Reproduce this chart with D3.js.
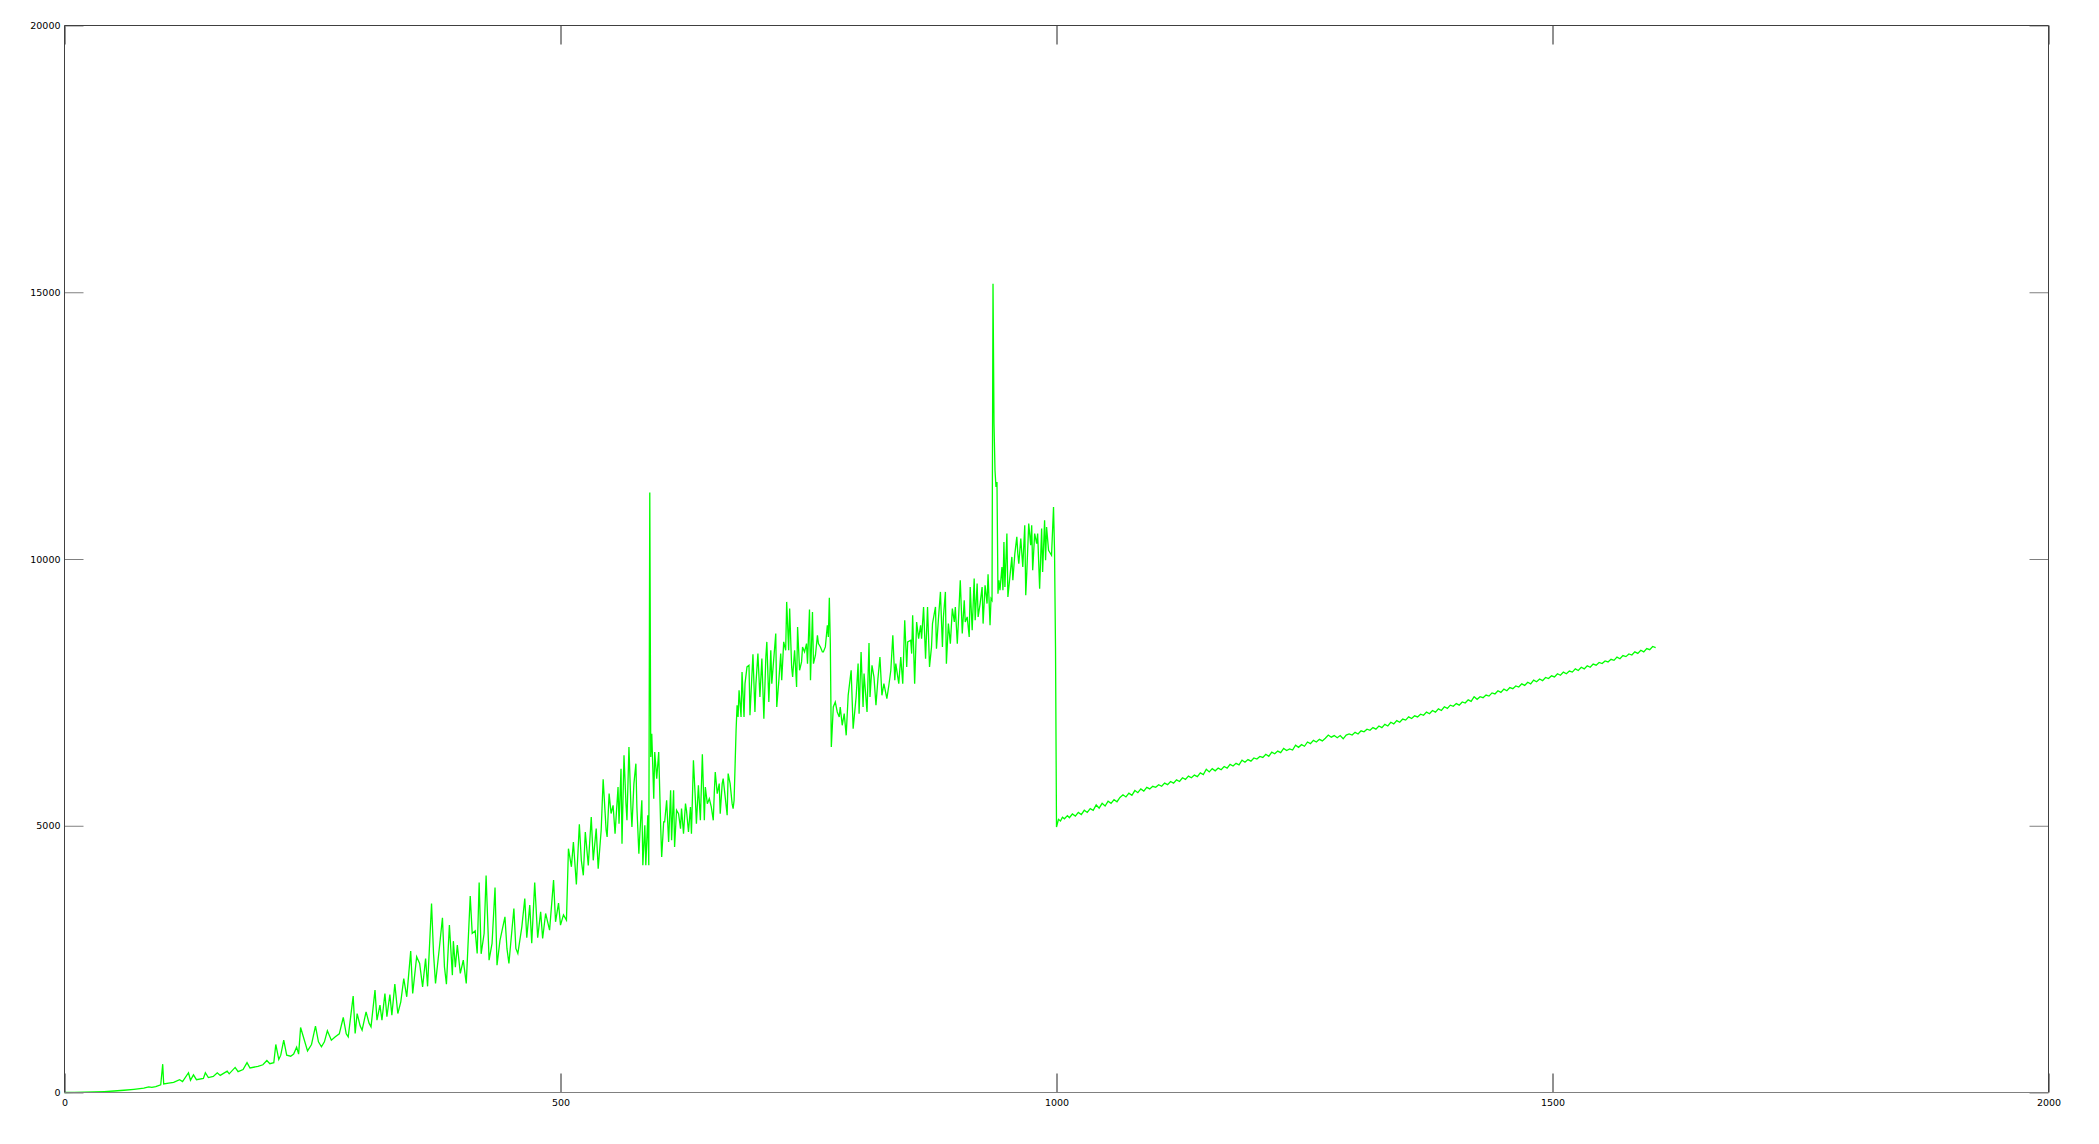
<!DOCTYPE html>
<html><head><meta charset="utf-8">
<script src="https://cdn.jsdelivr.net/npm/d3@7"></script>
<style>html,body{margin:0;padding:0;background:#fff;overflow:hidden} svg{display:block}</style>
</head><body>
<svg id="chart" width="2099" height="1144"></svg>
<script>
// ---- axis ticks ----
const xTickValues = [0, 500, 1000, 1500, 2000];
const yTickValues = [0, 5000, 10000, 15000, 20000];
const xDomain = [0, 2000];
const yDomain = [0, 20000];

// ---- series as [x, value] ----
const segRamp = [[0,0],[10,2],[20,5],[30,10],[40,18],[50,28],[60,42],[70,60],[80,80],[85,105],[88,95],[92,110],[97,145],[99,531],[100,160],[105,175],[110,190],[116,240],[119,205],[125,370],[127,230],[130,330],[133,240],[140,265],[142,370],[145,280],[150,300],[154,370],[157,320],[164,400],[166,350],[172,470],[175,390],[180,430],[184,560],[187,460],[195,490],[200,520],[204,600],[207,540],[211,560],[213,900],[216,620],[218,700],[221,980],[224,700],[228,680],[231,720],[234,850],[236,720]];

const segRise = [[238,1219],[245,781],[249,900],[253,1244],[256,950],[259,856],[262,950],[265,1156],[269,980],[273,1044],[277,1100],[281,1406],[284,1100],[286,1044],[291,1806],[293,1106],[295,1480],[298,1250],[300,1169],[304,1512],[307,1300],[309,1231],[313,1919],[315,1356],[318,1637],[320,1356],[323,1856],[325,1420],[328,1837],[330,1450],[333,2031],[336,1480],[339,1700],[342,2137],[345,1794],[349,2650],[351,1856],[355,2544],[358,2419],[361,1981],[364,2512],[366,1990],[370,3544],[372,2606],[374,2044],[378,2731],[381,3275],[383,2356],[385,2031],[388,3137],[391,2200],[392,2837],[394,2350],[396,2762],[399,2231],[402,2481],[405,2044],[409,3681],[411,2981],[414,3031],[416,2606],[418,3937],[420,2600],[423,2980],[425,4069],[428,2481],[431,2794],[434,3844],[436,2387],[439,2850],[444,3294],[446,2700],[448,2419],[453,3450],[455,2700],[457,2606],[461,3100],[464,3637],[466,2900],[469,3512],[471,2800],[474,3937],[477,2900],[480,3387],[482,2887],[485,3356],[489,3044],[493,3981],[495,3200],[498,3550],[500,3137],[503,3330],[506,3231]];

const segMid = [[508,4570],[511,4231],[513,4695],[516,3900],[519,5027],[521,4350],[523,4071],[525,4883],[528,4258],[531,5164],[533,4352],[536,4946],[538,4196],[541,4915],[543,5872],[546,4915],[547,4790],[549,5602],[551,5230],[553,5383],[555,4852],[558,5727],[559,5040],[561,6070],[562,4665],[564,6320],[566,5414],[567,5102],[569,6477],[571,5352],[572,4977],[574,5790],[576,6164],[577,5352],[579,4477],[580,4852],[582,5477],[583,4258],[585,5008],[586,4258],[588,5196],[589,4258],[590,11248],[591,6289],[592,6726],[594,5508],[595,6383],[597,5883],[599,6383],[601,4977],[602,4415],[604,5071],[605,5071],[607,5477],[609,4695],[611,5664],[612,4727],[614,5664],[615,4602],[617,5290],[619,5227],[621,4946],[622,5321],[624,4852],[626,5414],[627,5290],[629,4883],[631,5352],[632,4852],[634,6227],[636,5477],[637,5040],[639,5758],[641,5102],[643,6339],[645,5102],[646,5727],[648,5414],[650,5508],[652,5352],[654,5102],[655,5602],[656,6008],[658,5602],[660,5790],[661,5227],[663,5790],[664,5883],[666,5540],[668,5196],[669,5977],[671,5790],[673,5414],[674,5321],[675,5477]];

const segHigh = [[677,6789],[678,7258],[679,7039],[680,7539],[682,7039],[683,7883],[685,7039],[686,7664],[688,7977],[690,8008],[691,7071],[694,8214],[696,7133],[697,7664],[699,8227],[701,7414],[703,8133],[705,7008],[707,8164],[708,8446],[710,7321],[712,8289],[713,7664],[715,8133],[717,8602],[718,7227],[720,7696],[722,8227],[723,7727],[725,8446],[727,8289],[728,9196],[730,8289],[731,9071],[733,7977],[734,7789],[736,8289],[738,7602],[739,8727],[741,7914],[743,8071],[744,8352],[746,8258],[748,8414],[749,8039],[751,9052],[752,7727],[754,9008],[755,8039],[757,8196],[759,8571],[760,8414],[762,8352],[764,8258],[765,8258],[767,8352],[769,8758],[770,8539],[771,9273],[772,8414],[773,6477],[775,7227],[777,7321],[779,7133],[781,7039],[782,7226],[784,6883],[786,7101],[788,6695],[790,7445],[793,7914],[795,6820],[798,7414],[800,8039],[801,7101],[803,8258],[805,7226],[806,7852],[809,7133],[811,8427],[812,7414],[814,8008],[816,7789],[818,7258],[820,7758],[822,8164],[824,7445],[826,7664],[829,7383],[831,7633],[833,7914],[835,8570],[837,7727],[838,8039],[841,7664],[843,8164],[845,7664],[847,8852],[849,7977],[850,8445],[853,8477],[854,8227],[855,8945],[857,7664],[859,8820],[861,8508],[863,8758],[864,8508],[866,9101],[868,8133],[870,9101],[872,7977],[874,8352],[875,8789],[878,9101],[879,8320],[881,8883],[883,9383],[885,8352],[886,8914],[888,9383],[889,8039],[891,8789],[893,8414],[895,9070],[897,8820],[898,9101],[900,8414],[901,8789],[903,9601],[905,8602],[907,9226],[908,8820],[910,8914],[912,8539],[913,9476],[915,8664],[917,9632],[918,8852],[920,9539],[921,8914],[923,9164],[925,9476],[926,8789],[928,9508],[930,9164],[931,9714],[933,8758],[934,9258],[935,9226],[936,15160],[937,12537],[938,11662],[939,11350],[940,11443],[941,9351],[942,9601],[943,9414],[945,9851],[946,9414],[947,10320],[948,9476],[950,10476],[951,9289],[953,9664],[955,10039],[956,9601],[958,10101],[960,10414],[961,10101],[962,9914],[964,10383],[966,9851],[968,10632],[969,9320],[970,9726],[972,10663],[974,10258],[975,10632],[976,9789],[978,10476],[980,10289],[981,10476],[983,9445],[985,10570],[986,9757],[988,10726],[989,9976],[990,10601],[992,10164],[993,10132],[995,10070],[997,10976],[998,10164],[999,8352]];

const segTail = [[1000,4977],[1002,5120],[1004,5090],[1006,5160],[1008,5130],[1011,5190],[1013,5150],[1016,5220],[1019,5180],[1022,5250],[1025,5210],[1028,5290],[1031,5250],[1034,5320],[1037,5290],[1040,5390],[1043,5330],[1046,5420],[1049,5370],[1052,5460],[1055,5420],[1058,5490],[1061,5450],[1064,5530],[1067,5580],[1070,5540],[1073,5610],[1076,5570],[1079,5660],[1082,5620],[1085,5690],[1088,5650],[1091,5720],[1094,5690],[1097,5740],[1100,5720],[1103,5770],[1106,5740],[1109,5800],[1112,5770],[1115,5830],[1118,5800],[1121,5860],[1124,5830],[1127,5900],[1130,5870],[1133,5930],[1136,5900],[1139,5950],[1142,5920],[1145,5990],[1148,5960],[1151,6060],[1154,6010],[1157,6070],[1160,6030],[1163,6080],[1166,6050],[1169,6110],[1172,6080],[1175,6150],[1178,6120],[1181,6170],[1184,6140],[1187,6230],[1190,6190],[1193,6240],[1196,6210],[1199,6270],[1202,6250],[1205,6300],[1208,6280],[1211,6340],[1214,6300],[1217,6380],[1220,6350],[1223,6400],[1226,6370],[1229,6450],[1232,6410],[1235,6440],[1238,6420],[1241,6510],[1244,6470],[1247,6520],[1250,6490],[1253,6570],[1256,6540],[1259,6600],[1262,6570],[1265,6620],[1268,6590],[1271,6640],[1274,6700],[1277,6660],[1280,6690],[1283,6650],[1286,6690],[1289,6630],[1292,6700],[1295,6720],[1298,6700],[1301,6750],[1304,6720],[1307,6780],[1310,6760],[1313,6810],[1316,6790],[1319,6840],[1322,6810],[1325,6870],[1328,6840],[1331,6900],[1334,6870],[1337,6940],[1340,6910],[1343,6970],[1346,6940],[1349,7000],[1352,6980],[1355,7040],[1358,7010],[1361,7060],[1364,7040],[1367,7090],[1370,7070],[1373,7130],[1376,7100],[1379,7160],[1382,7130],[1385,7190],[1388,7160],[1391,7230],[1394,7200],[1397,7260],[1400,7240],[1403,7290],[1406,7260],[1409,7320],[1412,7300],[1415,7360],[1418,7330],[1421,7420],[1424,7370],[1427,7420],[1430,7400],[1433,7450],[1436,7430],[1439,7490],[1442,7470],[1445,7530],[1448,7500],[1451,7560],[1454,7530],[1457,7590],[1460,7570],[1463,7620],[1466,7600],[1469,7660],[1472,7630],[1475,7690],[1478,7660],[1481,7730],[1484,7700],[1487,7750],[1490,7720],[1493,7780],[1496,7760],[1499,7810],[1502,7790],[1505,7850],[1508,7820],[1511,7880],[1514,7850],[1517,7900],[1520,7880],[1523,7940],[1526,7910],[1529,7970],[1532,7940],[1535,8000],[1538,7970],[1541,8030],[1544,8010],[1547,8060],[1550,8040],[1553,8090],[1556,8070],[1559,8120],[1562,8100],[1565,8160],[1568,8130],[1571,8190],[1574,8170],[1577,8220],[1580,8200],[1583,8260],[1586,8230],[1589,8290],[1592,8260],[1595,8320],[1598,8300],[1601,8360],[1604,8340]];

const series = [].concat(segRamp, segRise, segMid, segHigh, segTail);

// ---- layout ----
const svg = d3.select("#chart");
const x = d3.scaleLinear().domain(xDomain).range([64.5, 2048.5]);
const y = d3.scaleLinear().domain(yDomain).range([1092.5, 25.5]);
const FONT = "'DejaVu Sans', sans-serif";
const TICK = 19;

// series line
svg.append("path")
  .datum(series)
  .attr("fill", "none")
  .attr("stroke", "#00ff00")
  .attr("stroke-width", 1.3)
  .attr("stroke-linejoin", "miter")
  .attr("d", d3.line().x(d => x(d[0])).y(d => y(d[1])));

function styleAxis(g, col) {
  g.select(".domain").remove();
  g.selectAll(".tick line").attr("stroke", col).attr("stroke-width", 1);
  g.selectAll(".tick text").attr("fill", "#000").style("font-family", FONT).style("font-size", "9.5px");
}

const gB = svg.append("g").attr("transform", `translate(0,${y(0)})`)
  .call(d3.axisBottom(x).tickValues(xTickValues).tickSize(-TICK).tickPadding(7).tickFormat(d3.format("d")));
styleAxis(gB, "#222");
const gT = svg.append("g").attr("transform", `translate(0,${y(20000)})`)
  .call(d3.axisTop(x).tickValues(xTickValues).tickSize(-TICK).tickFormat(""));
styleAxis(gT, "#222");
const gL = svg.append("g").attr("transform", `translate(${x(0)},0)`)
  .call(d3.axisLeft(y).tickValues(yTickValues).tickSize(-TICK).tickPadding(4).tickFormat(d3.format("d")));
styleAxis(gL, "#808080");
const gR = svg.append("g").attr("transform", `translate(${x(2000)},0)`)
  .call(d3.axisRight(y).tickValues(yTickValues).tickSize(-TICK).tickFormat(""));
styleAxis(gR, "#808080");

// frame
const fr = svg.append("g").attr("fill", "none").attr("stroke-width", 1);
fr.append("line").attr("x1", x(0)).attr("x2", x(2000)).attr("y1", y(20000)).attr("y2", y(20000)).attr("stroke", "#404040");
fr.append("line").attr("x1", x(0)).attr("x2", x(0)).attr("y1", y(20000)).attr("y2", y(0)).attr("stroke", "#404040");
fr.append("line").attr("x1", x(2000)).attr("x2", x(2000)).attr("y1", y(20000)).attr("y2", y(0)).attr("stroke", "#404040");
fr.append("line").attr("x1", x(0)).attr("x2", x(2000)).attr("y1", y(0)).attr("y2", y(0)).attr("stroke", "#808080");
</script>
</body></html>
